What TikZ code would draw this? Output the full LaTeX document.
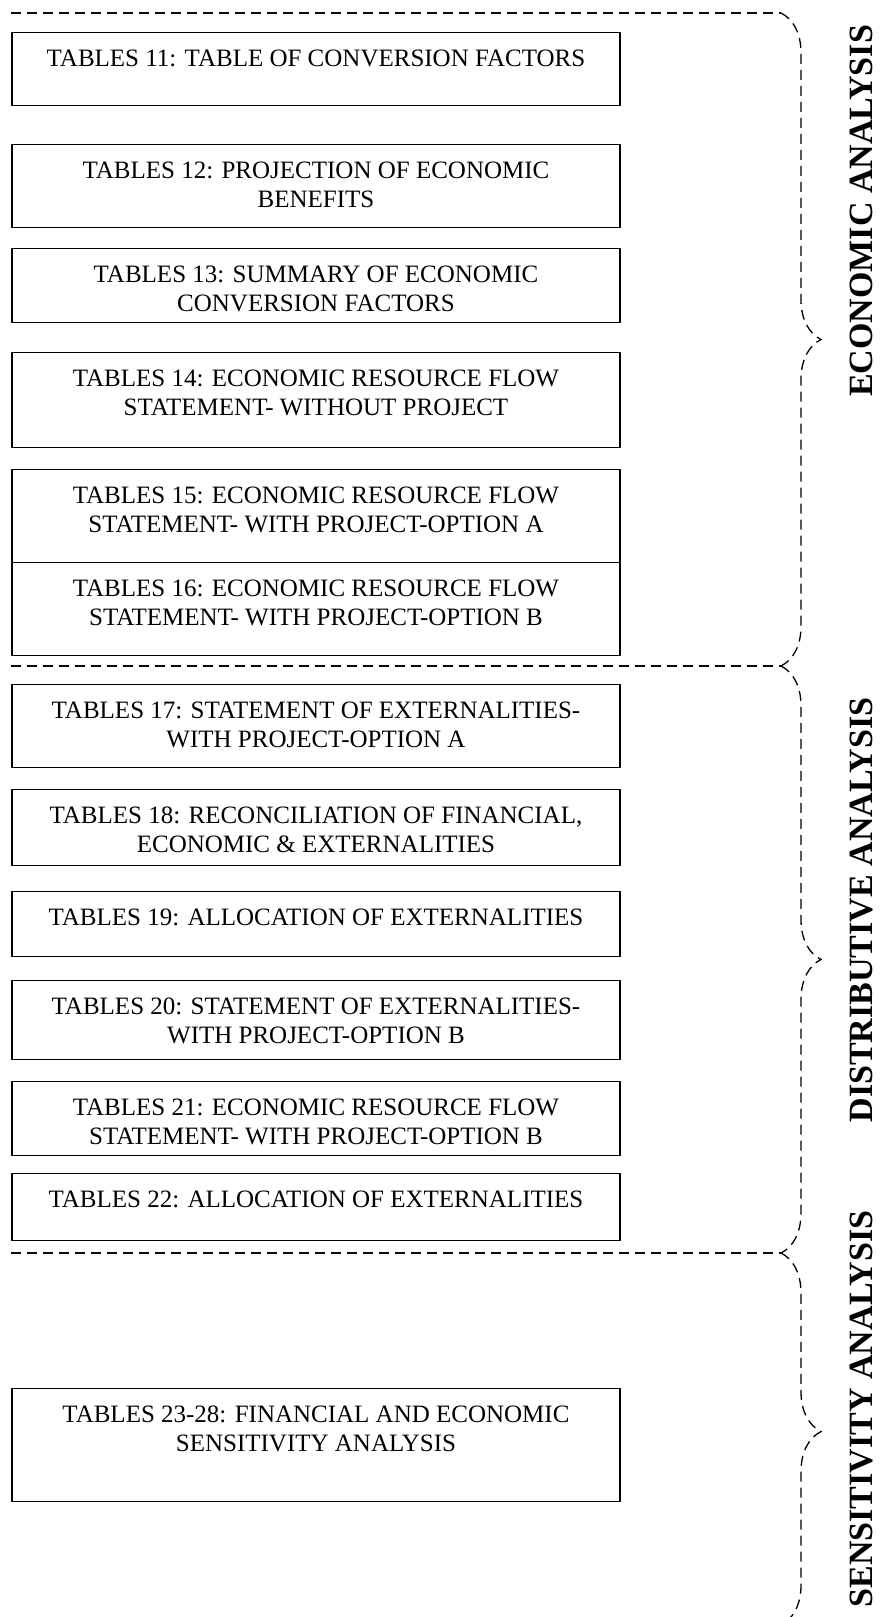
\documentclass[tikz,border=0pt]{standalone}
\usepackage{fontspec}
\setmainfont{Liberation Serif}
\usepackage{tikz}
\usetikzlibrary{decorations.pathreplacing}

\tikzstyle{tblbox} = [draw=black, line width=1.3pt, rectangle, inner sep=0pt,
anchor=north, font=\fontsize{25}{29}\selectfont]
\tikzstyle{seclabel} = [rotate=90, inner sep=0pt, font=\fontsize{34}{40}\selectfont\bfseries]
\tikzstyle{divline} = [draw=black, line width=1.3pt, dash pattern=on 10pt off 6pt]
\tikzstyle{secbrace} = [divline, decorate, decoration={brace, amplitude=40pt, aspect=#1}]

% one table box: name, top edge, height, text
\newcommand{\tbl}[4]{%
\node [tblbox] (#1) at (316,#2) {%
    \begin{minipage}[t][#3pt][t]{608pt}
        \centering\vspace*{17pt}#4
    \end{minipage}
};
}

\begin{document}
\begin{tikzpicture}[x=1pt, y=-1pt]
        \useasboundingbox (0,0) rectangle (881,1617);

        % economic analysis
        \tbl{t11}{32}{73}{TABLES 11: TABLE OF CONVERSION FACTORS}
        \tbl{t12}{144}{83}{TABLES 12: PROJECTION OF ECONOMIC\\BENEFITS}
        \tbl{t13}{248}{74}{TABLES 13: SUMMARY OF ECONOMIC\\CONVERSION FACTORS}
        \tbl{t14}{352}{95}{TABLES 14: ECONOMIC RESOURCE FLOW\\STATEMENT- WITHOUT PROJECT}
        \tbl{t15}{469}{93}{TABLES 15: ECONOMIC RESOURCE FLOW\\STATEMENT- WITH PROJECT-OPTION A}
        \tbl{t16}{562}{93}{TABLES 16: ECONOMIC RESOURCE FLOW\\STATEMENT- WITH PROJECT-OPTION B}

        % distributive analysis
        \tbl{t17}{684}{83}{TABLES 17: STATEMENT OF EXTERNALITIES-\\WITH PROJECT-OPTION A}
        \tbl{t18}{789}{76}{TABLES 18: RECONCILIATION OF FINANCIAL,\\ECONOMIC \& EXTERNALITIES}
        \tbl{t19}{891}{65}{TABLES 19: ALLOCATION OF EXTERNALITIES}
        \tbl{t20}{980}{79}{TABLES 20: STATEMENT OF EXTERNALITIES-\\WITH PROJECT-OPTION B}
        \tbl{t21}{1081}{74}{TABLES 21: ECONOMIC RESOURCE FLOW\\STATEMENT- WITH PROJECT-OPTION B}
        \tbl{t22}{1173}{67}{TABLES 22: ALLOCATION OF EXTERNALITIES}

        % sensitivity analysis
        \tbl{t23}{1388}{113}{TABLES 23-28: FINANCIAL AND ECONOMIC\\SENSITIVITY ANALYSIS}

        % section dividers and braces
        \draw [divline] (11,13) -- (781,13);
        \draw [divline] (11,666) -- (781,666);
        \draw [divline] (11,1253) -- (781,1253);
        \draw [secbrace=0.5] (781,13) -- (781,666);
        \draw [secbrace=0.5] (781,666) -- (781,1253);
        \draw [secbrace=0.48] (781,1253) -- (781,1625);

        \node [seclabel] (econ) at (861,211) {ECONOMIC ANALYSIS};
        \node [seclabel] (distr) at (861,910) {DISTRIBUTIVE ANALYSIS};
        \node [seclabel] (sens) at (861,1409) {SENSITIVITY ANALYSIS};
    \end{tikzpicture}
\end{document}
